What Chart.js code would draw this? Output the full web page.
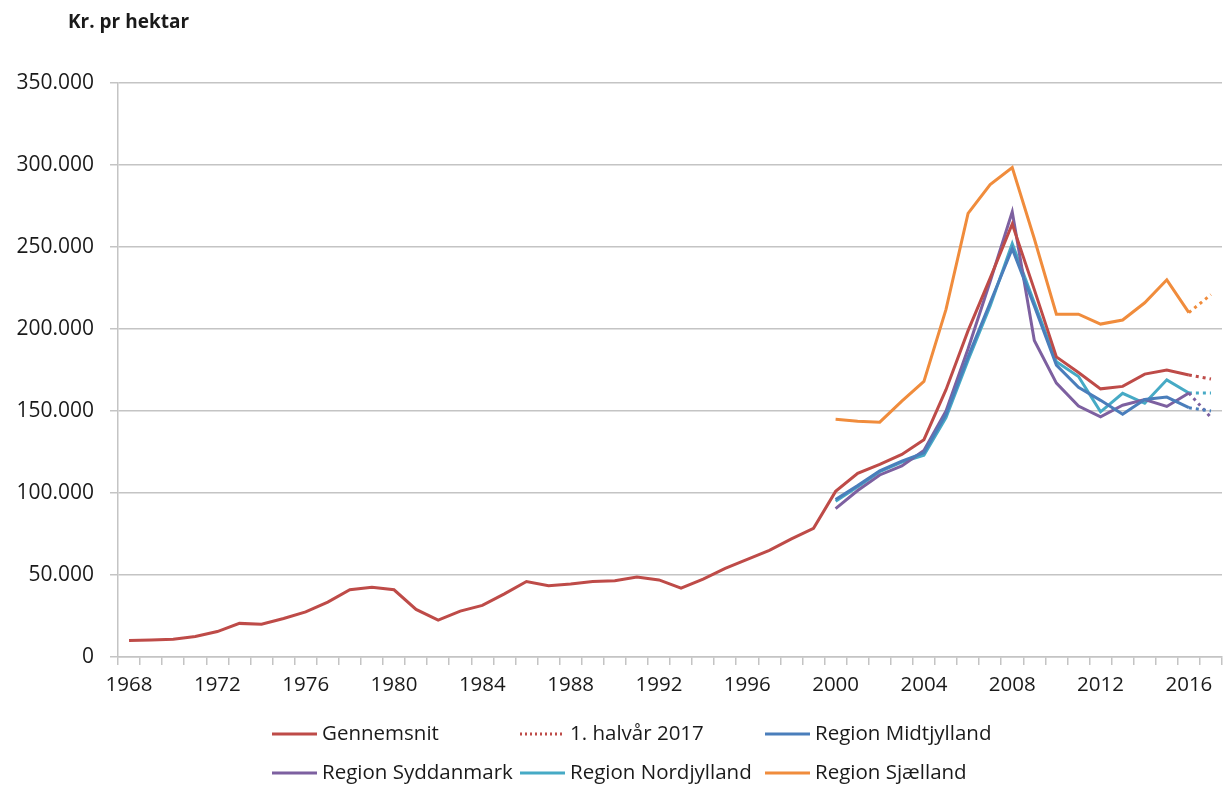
<!DOCTYPE html>
<html>
<head>
<meta charset="utf-8">
<script src="https://cdn.jsdelivr.net/npm/chart.js@4.4.1/dist/chart.umd.min.js"></script>
<style>
html,body{margin:0;padding:0;background:#fff;}
#wrap{width:1223px;height:787px;position:relative;}
</style>
</head>
<body>
<div id="wrap"><canvas id="c" width="1223" height="787"></canvas></div>
<script>
// ---- Categories (years) ----
const years = ['1968','1969','1970','1971','1972','1973','1974','1975','1976','1977',
  '1978','1979','1980','1981','1982','1983','1984','1985','1986','1987',
  '1988','1989','1990','1991','1992','1993','1994','1995','1996','1997',
  '1998','1999','2000','2001','2002','2003','2004','2005','2006','2007',
  '2008','2009','2010','2011','2012','2013','2014','2015','2016','2017'];
const xTickLabels = ['1968','1972','1976','1980','1984','1988','1992','1996','2000','2004','2008','2012','2016'];
const yTicks = [0, 50000, 100000, 150000, 200000, 250000, 300000, 350000];

// ---- Gennemsnit 1968-2016 ----
const gennemsnitYears = years.slice(0, 49);
const gennemsnit = [10000, 10300, 10800, 12500, 15500, 20500, 20000, 23500, 27500, 33500,
  41000, 42500, 41000, 29000, 22500, 28000, 31500, 38500, 46000, 43500,
  44500, 46000, 46500, 48800, 47000, 42000, 47500, 54000, 59500, 65000,
  72000, 78500, 101000, 112000, 117500, 123500, 132500, 163000, 199000, 231000,
  264000, 224000, 183000, 173500, 163500, 165000, 172500, 175000, 172000];

// ---- 1. halvår 2017 (dotted continuation of Gennemsnit) ----
const halvaarYears = ['2016', '2017'];
const halvaar2017 = [172000, 169500];

// ---- Regions 2000-2017 (last point = 1. halvår 2017) ----
const regionYears = ['2000','2001','2002','2003','2004','2005','2006','2007','2008',
  '2009','2010','2011','2012','2013','2014','2015','2016','2017'];
const midtjylland = [96000, 104500, 113500, 119500, 124500, 148000, 183000, 216000, 249000,
  214000, 178000, 164500, 156500, 148000, 157000, 158500, 152000, 150000];
const syddanmark = [90500, 101500, 111000, 116500, 126000, 150000, 188000, 229000, 271500,
  193000, 167000, 153000, 146500, 153500, 157000, 152800, 161000, 146000];
const nordjylland = [95000, 103800, 113000, 118800, 123000, 146000, 181000, 214000, 252000,
  216000, 180000, 171000, 149500, 160800, 154700, 169000, 161000, 161000];
const sjaelland = [145000, 143800, 143200, 156000, 168000, 212000, 270500, 288000, 298500,
  255000, 209000, 209000, 203000, 205500, 216000, 230000, 210000, 221000];

// ---- Series labels ----
const seriesLabels = ['Gennemsnit', '1. halvår 2017', 'Region Midtjylland',
  'Region Syddanmark', 'Region Nordjylland', 'Region Sjælland'];

function pts(xs, ys) { return xs.map((x, i) => ({ x: x, y: ys[i] })); }
function fmt(v) { return String(v).replace(/\B(?=(\d{3})+(?!\d))/g, '.'); }

const COLORS = {
  red: '#be4b48', blue: '#4a7ebb', purple: '#7d60a0', cyan: '#46aac5', orange: '#f08c3c'
};
const DOT = [3, 4];
function regionDataset(label, vals, color) {
  const last = vals.length - 1;
  return {
    label: label, data: pts(regionYears, vals), borderColor: color, backgroundColor: color,
    borderWidth: 3, pointRadius: 0, tension: 0, fill: false,
    segment: { borderDash: ctx => ctx.p1DataIndex === last ? DOT : undefined },
    legendDash: []
  };
}

Chart.defaults.font.family = '"Open Sans", "Noto Sans", sans-serif';
Chart.defaults.font.size = 20;
Chart.defaults.color = '#1a1a1a';

const titlePlugin = {
  id: 'topTitle',
  afterDraw(chart) {
    const ctx = chart.ctx;
    ctx.save();
    ctx.font = 'bold 19px "Open Sans", sans-serif';
    ctx.fillStyle = '#1a1a1a';
    ctx.textBaseline = 'alphabetic';
    ctx.textAlign = 'left';
    ctx.fillText('Kr. pr hektar', 68, 28);
    ctx.restore();
  }
};

const legendPlugin = {
  id: 'gridLegend',
  afterDraw(chart) {
    const ctx = chart.ctx;
    const cols = [272, 520, 765];
    const rows = [734, 773];
    chart.data.datasets.forEach((ds, i) => {
      const x = cols[i % 3], y = rows[Math.floor(i / 3)];
      ctx.save();
      ctx.strokeStyle = ds.borderColor;
      ctx.lineWidth = ds.borderWidth;
      ctx.setLineDash(ds.legendDash || []);
      ctx.beginPath(); ctx.moveTo(x, y); ctx.lineTo(x + 45, y); ctx.stroke();
      ctx.setLineDash([]);
      ctx.fillStyle = '#1a1a1a';
      ctx.font = '20.5px "Open Sans", sans-serif';
      ctx.textBaseline = 'middle';
      ctx.textAlign = 'left';
      ctx.fillText(ds.label, x + 50, y);
      ctx.restore();
    });
  }
};

const GRID = '#c4c4c4';

new Chart(document.getElementById('c'), {
  type: 'line',
  data: {
    labels: years,
    datasets: [
      { label: seriesLabels[0], data: pts(gennemsnitYears, gennemsnit), borderColor: COLORS.red,
        backgroundColor: COLORS.red, borderWidth: 3, pointRadius: 0, tension: 0, fill: false, legendDash: [] },
      { label: seriesLabels[1], data: pts(halvaarYears, halvaar2017), borderColor: COLORS.red,
        backgroundColor: COLORS.red, borderWidth: 3, borderDash: DOT, pointRadius: 0, tension: 0, fill: false,
        legendDash: [2, 3] },
      regionDataset(seriesLabels[2], midtjylland, COLORS.blue),
      regionDataset(seriesLabels[3], syddanmark, COLORS.purple),
      regionDataset(seriesLabels[4], nordjylland, COLORS.cyan),
      regionDataset(seriesLabels[5], sjaelland, COLORS.orange)
    ]
  },
  options: {
    responsive: false,
    animation: false,
    events: [],
    layout: { padding: { left: 16, right: 1, top: 83, bottom: 88 } },
    plugins: { legend: { display: false }, title: { display: false }, tooltip: { enabled: false } },
    scales: {
      x: {
        type: 'category',
        offset: true,
        grid: { display: true, drawOnChartArea: false, drawTicks: true, tickLength: 8, offset: true, color: GRID, lineWidth: 1.5 },
        border: { display: true, color: GRID, width: 1.5 },
        ticks: {
          autoSkip: false, maxRotation: 0, minRotation: 0, padding: 8, font: { size: 20.5 },
          callback: function (val) { const l = this.getLabelForValue(val); return xTickLabels.includes(l) ? l : ''; }
        },
        afterFit(scale) { scale.height = 42; }
      },
      y: {
        min: 0, max: 350000,
        afterBuildTicks(scale) { scale.ticks = yTicks.map(v => ({ value: v })); },
        grid: { color: GRID, lineWidth: 1.5, drawTicks: true, tickLength: 8 },
        border: { display: true, color: GRID, width: 1.5 },
        ticks: { padding: 16, font: { size: 21 }, callback: v => fmt(v) },
        afterFit(scale) { scale.width = 102; }
      }
    }
  },
  plugins: [titlePlugin, legendPlugin]
});
</script>
</body>
</html>
